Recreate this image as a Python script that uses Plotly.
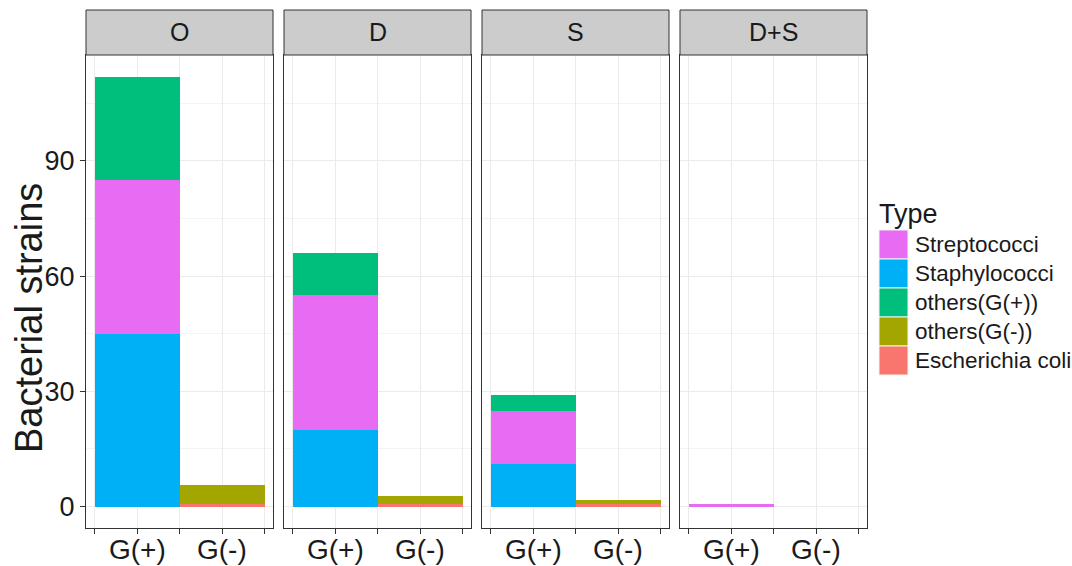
import plotly.graph_objects as go

# Gram groups on the x axis and the four facets
categories = ["G(+)", "G(-)"]
panels = ["O", "D", "S", "D+S"]

# Strain counts per facet (O, D, S, D+S)
staphylococci = [45, 20, 11, 0]
streptococci = [40, 35, 14, 0.7]
others_pos = [27, 11, 4, 0]
others_neg = [5, 2, 1, 0]
e_coli = [0.7, 0.7, 0.7, 0]

y_ticks = [0, 30, 60, 90]
y_minor = [15, 45, 75, 105]

# ggplot2 default hue palette
colors = {
    "Streptococci": "#E76BF3",
    "Staphylococci": "#00B0F6",
    "others(G(+))": "#00BF7D",
    "others(G(-))": "#A3A500",
    "Escherichia coli": "#F8766D",
}
legend_order = ["Streptococci", "Staphylococci", "others(G(+))",
                "others(G(-))", "Escherichia coli"]

# stacking order, bottom to top, with the group each type belongs to
stack = [
    ("Escherichia coli", e_coli, 1),
    ("others(G(-))", others_neg, 1),
    ("Staphylococci", staphylococci, 0),
    ("Streptococci", streptococci, 0),
    ("others(G(+))", others_pos, 0),
]

W, H = 1072, 566
FONT = "Liberation Sans, Arial, sans-serif"
TEXT = "#1A1A1A"
BORDER = "#333333"


def px(x):
    return x / W


def py(y):
    return 1 - y / H


panel_x = [(86, 273), (284, 471), (482, 669), (680, 867)]
panel_top, panel_bottom, strip_top = 55, 528, 10

fig = go.Figure()
shapes, annotations = [], []
ymax = max(s + t + o for s, t, o in zip(staphylococci, streptococci, others_pos))
y_range = [-0.05 * ymax, ymax * 1.05]
positions = [i + 1 for i in range(len(categories))]

for p, name in enumerate(panels):
    sfx = "" if p == 0 else str(p + 1)
    for label, values, group in stack:
        fig.add_trace(go.Bar(
            x=[positions[group]], y=[values[p]], width=1,
            marker=dict(color=colors[label], line=dict(width=0)),
            name=label, showlegend=False,
            xaxis="x" + sfx, yaxis="y" + sfx,
        ))
    x0, x1 = panel_x[p]
    fig.layout["xaxis" + sfx] = dict(
        domain=[px(x0), px(x1)], anchor="y" + sfx, automargin=False,
        range=[0.4, len(categories) + 0.6],
        tickvals=[0.5, 1, 1.5, 2, 2.5],
        showticklabels=False,
        ticks="outside", ticklen=5, tickcolor=BORDER, tickwidth=1,
        showgrid=True, gridcolor="#EBEBEB", gridwidth=1,
        zeroline=False, showline=True, mirror=True,
        linecolor=BORDER, linewidth=1,
        fixedrange=True,
    )
    fig.layout["yaxis" + sfx] = dict(
        domain=[py(panel_bottom), py(panel_top)], anchor="x" + sfx,
        automargin=False,
        range=y_range, tickvals=y_ticks,
        showticklabels=(p == 0),
        ticks="outside" if p == 0 else "", ticklen=5,
        tickcolor=BORDER, tickwidth=1,
        showgrid=True, gridcolor="#EBEBEB", gridwidth=1,
        minor=dict(tickvals=y_minor, showgrid=True,
                   gridcolor="#F4F4F4", gridwidth=1),
        zeroline=False, showline=True, mirror=True,
        linecolor=BORDER, linewidth=1,
        tickfont=dict(family=FONT, size=27, color=TEXT),
        fixedrange=True,
    )
    # category labels under each facet
    for pos, cat in zip(positions, categories):
        annotations.append(dict(text=cat, xref="x" + sfx, yref="paper",
                                x=pos, y=py(549), showarrow=False,
                                xanchor="center", yanchor="middle",
                                font=dict(family=FONT, size=28, color=TEXT)))
    # facet strip
    shapes.append(dict(type="rect", xref="paper", yref="paper",
                       x0=px(x0), x1=px(x1), y0=py(panel_top), y1=py(strip_top),
                       fillcolor="#CCCCCC", line=dict(color=BORDER, width=1)))
    annotations.append(dict(text=name, xref="paper", yref="paper",
                            x=px((x0 + x1) / 2), y=py((panel_top + strip_top) / 2),
                            showarrow=False, xanchor="center", yanchor="middle",
                            font=dict(family=FONT, size=25, color=TEXT)))

# y axis title
annotations.append(dict(text="Bacterial strains", xref="paper", yref="paper",
                        x=px(29), y=py(318), textangle=-90, showarrow=False,
                        xanchor="center", yanchor="middle",
                        font=dict(family=FONT, size=38, color=TEXT)))

# legend drawn as keys and labels
annotations.append(dict(text="Type", xref="paper", yref="paper",
                        x=px(877), y=py(214), showarrow=False,
                        xanchor="left", yanchor="middle",
                        font=dict(family=FONT, size=27, color=TEXT)))
key_top, key_h = 230, 29
for i, label in enumerate(legend_order):
    t = key_top + i * key_h
    shapes.append(dict(type="rect", xref="paper", yref="paper",
                       x0=px(879), x1=px(908), y0=py(t + key_h), y1=py(t),
                       fillcolor=colors[label], line=dict(color="#F2F2F2", width=1)))
    annotations.append(dict(text=label, xref="paper", yref="paper",
                            x=px(913), y=py(t + key_h / 2), showarrow=False,
                            xanchor="left", yanchor="middle",
                            font=dict(family=FONT, size=22.5, color=TEXT)))

fig.update_layout(
    width=W, height=H, barmode="stack", bargap=0,
    margin=dict(l=0, r=0, t=0, b=0),
    paper_bgcolor="white", plot_bgcolor="white",
    shapes=shapes, annotations=annotations, showlegend=False,
)

fig.write_html("out.html")
